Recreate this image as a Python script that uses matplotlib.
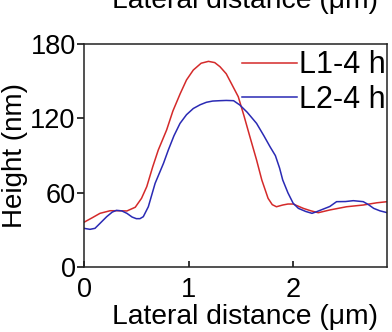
import matplotlib
matplotlib.use("Agg")
import matplotlib.pyplot as plt

plt.rcParams['font.family'] = ['Liberation Sans', 'DejaVu Sans']

# height profiles across the feature (lateral distance in um, height in nm)
x_l1 = [0, 0.08, 0.153, 0.25, 0.33, 0.41, 0.49, 0.55, 0.60, 0.657, 0.71, 0.79,
        0.85, 0.92, 0.98, 1.045, 1.12, 1.19, 1.25, 1.30, 1.36, 1.41, 1.475,
        1.53, 1.587, 1.65, 1.70, 1.76, 1.80, 1.84, 1.90, 1.95, 2.0, 2.097,
        2.17, 2.24, 2.35, 2.51, 2.67, 2.80, 2.90]
h_l1 = [36.3, 40, 43.5, 45.6, 45.6, 45.4, 48.4, 55.6, 65, 81, 94.5, 110.7,
        126, 140, 151, 159, 164.5, 166, 165, 161.7, 156, 148, 137.5,
        122, 105, 86.5, 70.4, 55.6, 50.5, 48.8, 50.2, 51, 51, 47.5,
        45.5, 44, 46.2, 48.8, 50.2, 52, 52.9]

x_l2 = [0, 0.057, 0.105, 0.16, 0.217, 0.27, 0.31, 0.36, 0.41, 0.46, 0.50,
        0.535, 0.567, 0.615, 0.68, 0.76, 0.806, 0.86, 0.918, 0.98, 1.045,
        1.11, 1.17, 1.23, 1.30, 1.36, 1.43, 1.49, 1.56, 1.65, 1.72, 1.78,
        1.83, 1.87, 1.90, 1.95, 2.0, 2.05, 2.12, 2.18, 2.23, 2.29, 2.35,
        2.415, 2.5, 2.575, 2.67, 2.72, 2.77, 2.83, 2.90]
h_l2 = [31.4, 30.6, 31.4, 36, 40.8, 44.5, 45.9, 45.5, 43.5, 40.5, 39.2,
        39.2, 40.8, 48.8, 67.7, 83.8, 94.5, 106, 116, 123, 128,
        131, 133, 134, 134.3, 134.5, 134.3, 130.8, 125, 116, 106, 97,
        90, 80, 70.4, 60, 51.6, 47.5, 45, 43.5, 45, 47, 49,
        52.9, 53, 53.7, 52.9, 50.5, 47.5, 45.5, 44]

labels = ['L1-4 h', 'L2-4 h']
colors = ['#d42a2a', '#2a2ab4']

fig = plt.figure(figsize=(3.92, 3.32), dpi=100)
ax = fig.add_axes([0.2143, 0.1949, 0.7737, 0.6726])

ax.plot(x_l1, h_l1, color=colors[0], lw=1.1, label=labels[0])
ax.plot(x_l2, h_l2, color=colors[1], lw=1.1, label=labels[1])

ax.set_xlim(0, 2.9)
ax.set_ylim(0, 180)
ax.set_xticks([0, 1, 2])
ax.set_yticks([0, 60, 120, 180])

for s in ax.spines.values():
    s.set_linewidth(1.1)
    s.set_color('#222222')

ax.tick_params(axis='x', direction='in', length=4, width=1.1, labelsize=19.5, pad=7)
ax.tick_params(axis='y', direction='out', length=5, width=1.1, labelsize=19.5, pad=1)

ax.set_xlabel('Lateral distance (μm)', fontsize=20.3, labelpad=1)
ax.xaxis.label.set_x(0.531)
ax.set_ylabel('Height (nm)', fontsize=20, labelpad=2)

ax.legend(loc='upper right', frameon=False, fontsize=22, handlelength=1.8,
          handletextpad=0.05, labelspacing=0.15, borderaxespad=0.1,
          bbox_to_anchor=(1.045, 1.04))

# x label of the panel above, cut off at the top edge
fig.text(0.626, 1 - 8 / 332, 'Lateral distance (μm)', fontsize=20.3,
         ha='center', va='baseline')

fig.savefig('out.png', dpi=100)
